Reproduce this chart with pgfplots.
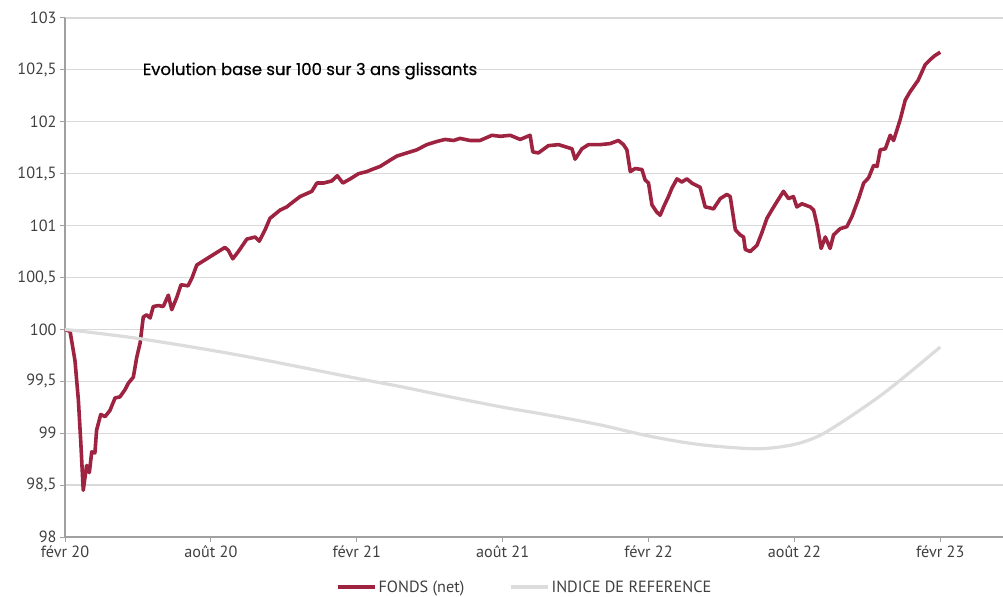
\documentclass[border=0pt]{standalone}
\usepackage{fontspec}
\usepackage{pgfplots}
\pgfplotsset{compat=1.18}
\setmainfont{PT Sans}
\newfontfamily\titlefont{Poppins}[FakeBold=0.6]
\definecolor{fonds}{RGB}{158,35,64}
\definecolor{indice}{RGB}{220,220,220}
\definecolor{gridc}{RGB}{217,217,217}
\definecolor{axisc}{RGB}{160,160,160}
\definecolor{labc}{RGB}{64,64,64}
\begin{document}
\begin{tikzpicture}
\useasboundingbox (0,0) rectangle (1003bp,597bp);
\begin{axis}[
  at={(65bp,60bp)}, anchor=south west,
  scale only axis, width=938bp, height=519bp,
  xmin=0, xmax=38.58, ymin=98, ymax=103,
  axis x line*=bottom, axis y line*=left,
  axis line style={axisc, line width=1.2bp},
  xtick={0,6,12,18,24,30,36},
  xticklabels={févr 20,août 20,févr 21,août 21,févr 22,août 22,févr 23},
  ytick={98,98.5,99,99.5,100,100.5,101,101.5,102,102.5,103},
  yticklabel style={/pgf/number format/.cd, use comma, 1000 sep={}, assume math mode=true},
  tick label style={font=\fontsize{16.3}{18}\selectfont, text=labc},
  tick align=outside, major tick length=5bp,
  tick style={axisc, line width=1bp},
  ymajorgrids, grid style={gridc, line width=1.2bp},
  clip=false,
  legend columns=2,
  legend style={at={(0.49,-0.0963)}, anchor=center, draw=none, fill=none,
    font=\fontsize{16.3}{18}\selectfont, text=labc,
    /tikz/every even column/.append style={column sep=44bp},
    nodes={inner sep=1.5bp}},
  legend image code/.code={\draw[#1] (0bp,0bp) -- (37bp,0bp);},
]
\addplot[fonds, line width=3.6bp, line join=round] coordinates {
(0,100.0) (0.21,99.98) (0.41,99.70) (0.55,99.32) (0.65,98.91) (0.75,98.45)
(0.89,98.69) (1.00,98.62) (1.10,98.82) (1.23,98.81) (1.30,99.03) (1.47,99.18)
(1.65,99.16) (1.85,99.22) (2.06,99.34) (2.26,99.35) (2.47,99.42) (2.60,99.48)
(2.81,99.54) (2.95,99.73) (3.09,99.87) (3.22,100.12) (3.36,100.14) (3.50,100.11)
(3.63,100.22) (3.84,100.23) (4.04,100.22) (4.25,100.33) (4.39,100.19) (4.60,100.31)
(4.77,100.43) (5.06,100.42) (5.23,100.50) (5.42,100.62) (5.76,100.67) (6.10,100.72)
(6.58,100.79) (6.72,100.76) (6.90,100.68) (7.13,100.75) (7.48,100.87) (7.82,100.89)
(7.99,100.85) (8.23,100.96) (8.43,101.07) (8.85,101.15) (9.12,101.18) (9.39,101.23)
(9.67,101.28) (10.15,101.33) (10.36,101.41) (10.63,101.41) (10.97,101.43) (11.20,101.48)
(11.43,101.41) (11.73,101.45) (12.07,101.50) (12.41,101.52) (12.62,101.54) (12.96,101.57)
(13.30,101.62) (13.65,101.67) (14.06,101.70) (14.47,101.73) (14.88,101.78) (15.29,101.81)
(15.63,101.83) (15.98,101.82) (16.25,101.84) (16.66,101.82) (17.07,101.82) (17.56,101.87)
(17.90,101.86) (18.31,101.87) (18.72,101.83) (19.13,101.87) (19.24,101.71) (19.47,101.70)
(19.88,101.77) (20.30,101.78) (20.71,101.75) (20.85,101.74) (20.98,101.64) (21.26,101.74)
(21.53,101.78) (22.01,101.78) (22.42,101.79) (22.76,101.82) (22.97,101.78) (23.11,101.73)
(23.25,101.52) (23.45,101.55) (23.73,101.54) (23.86,101.44) (24.00,101.41) (24.14,101.20)
(24.34,101.13) (24.48,101.10) (24.62,101.18) (24.82,101.28) (24.96,101.36) (25.17,101.45)
(25.37,101.42) (25.58,101.45) (25.78,101.41) (26.12,101.37) (26.33,101.18) (26.54,101.17)
(26.67,101.16) (26.95,101.26) (27.22,101.30) (27.36,101.28) (27.57,100.96) (27.77,100.91)
(27.91,100.89) (27.98,100.77) (28.18,100.75) (28.46,100.81) (28.66,100.93) (28.87,101.07)
(29.07,101.15) (29.28,101.23) (29.55,101.33) (29.76,101.26) (29.96,101.28) (30.10,101.18)
(30.31,101.21) (30.65,101.18) (30.79,101.15) (30.93,101.01) (31.10,100.78) (31.27,100.89)
(31.47,100.78) (31.61,100.91) (31.88,100.97) (32.16,100.99) (32.37,101.09) (32.64,101.26)
(32.85,101.41) (33.05,101.46) (33.26,101.58) (33.40,101.57) (33.53,101.73) (33.74,101.74)
(33.94,101.87) (34.08,101.82) (34.35,102.02) (34.56,102.21) (34.76,102.29) (35.09,102.40)
(35.38,102.55) (35.59,102.60) (35.79,102.64) (36.00,102.67)
};
\addlegendentry{FONDS (net)}
\addplot[indice, line width=3.2bp, smooth] coordinates {
(0,100.0) (3.09,99.91) (7.20,99.75) (11.97,99.53) (13.78,99.45) (15.84,99.35)
(18.02,99.25) (20.0,99.17) (22.01,99.08) (24.07,98.97) (26.12,98.89) (28.46,98.85)
(29.96,98.89) (31.06,98.98) (32.30,99.16) (33.53,99.36) (34.35,99.51) (35.18,99.67) (36.00,99.83)
};
\addlegendentry{INDICE DE REFERENCE}
\end{axis}
\node[font=\titlefont\fontsize{16.5}{19}\selectfont, text=black] at (310bp,526bp) {Evolution base sur 100 sur 3 ans glissants};
\end{tikzpicture}
\end{document}
